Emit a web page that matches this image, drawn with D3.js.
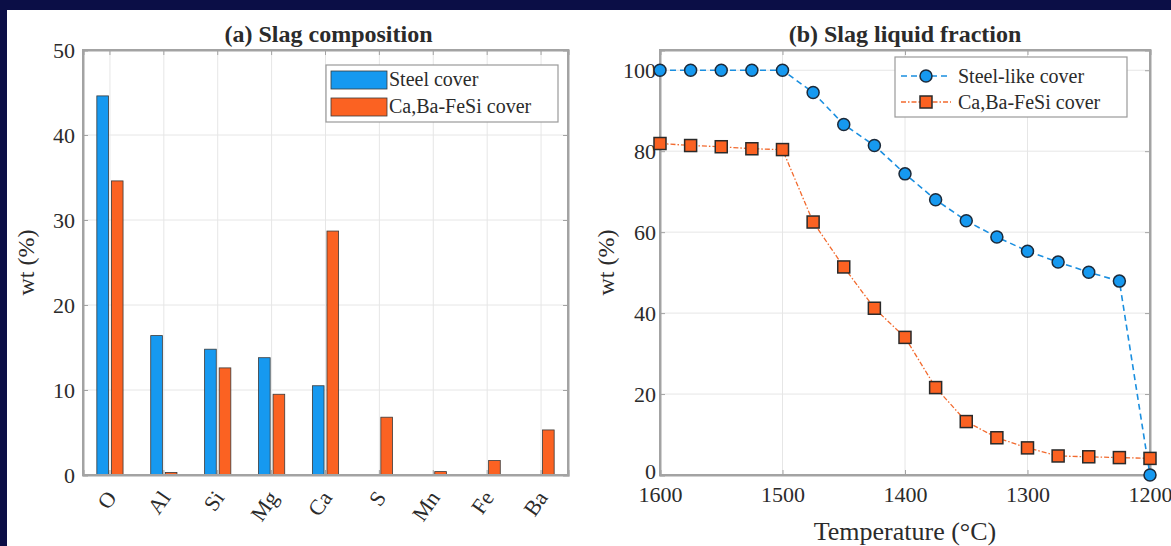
<!DOCTYPE html>
<html>
<head>
<meta charset="utf-8">
<script src="https://cdn.jsdelivr.net/npm/d3@7"></script>
<style>
  body { margin: 0; background: #0b0e46; }
  svg { display: block; }
  text { font-family: "Liberation Serif", "Times New Roman", serif; fill: #2b2b2b; }
  .title { font-weight: bold; font-size: 24px; }
  .tick text { font-size: 22px; }
  .grid line { stroke: #e6e6e6; stroke-width: 1; }
</style>
</head>
<body>
<svg id="chart"></svg>
<script>
// panel (a) data
var elements = ["O", "Al", "Si", "Mg", "Ca", "S", "Mn", "Fe", "Ba"];
var steelCover = [44.6, 16.4, 14.8, 13.8, 10.5, 0, 0, 0, 0];
var febaCover = [34.6, 0.3, 12.6, 9.5, 28.7, 6.8, 0.4, 1.7, 5.3];
var seriesNamesA = ["Steel cover", "Ca,Ba-FeSi cover"];

// panel (b) data
var temps = [1600, 1575, 1550, 1525, 1500, 1475, 1450, 1425, 1400, 1375, 1350, 1325, 1300, 1275, 1250, 1225, 1200];
var steelLike = [100, 100, 100, 100, 100, 94.5, 86.6, 81.4, 74.4, 68.0, 62.8, 58.8, 55.3, 52.6, 50.1, 47.9, 0];
var febaLiquid = [81.9, 81.4, 81.1, 80.6, 80.4, 62.5, 51.4, 41.2, 34.0, 21.6, 13.2, 9.2, 6.7, 4.7, 4.5, 4.3, 4.1];
var seriesNamesB = ["Steel-like cover", "Ca,Ba-FeSi cover"];

var blue = "#1699f0", orange = "#fb6222";
var axisCol = "#a3a3a3";

var svg = d3.select("#chart").attr("width", 1171).attr("height", 546);

// white sheet over the navy frame
svg.append("rect").attr("x", 7).attr("y", 10).attr("width", 1164).attr("height", 536).attr("fill", "#fff");

function frame(g, x0, x1, y0, y1) {
  g.append("rect").attr("x", x0).attr("y", y0).attr("width", x1 - x0).attr("height", y1 - y0)
    .attr("fill", "none").attr("stroke", axisCol).attr("stroke-width", 2);
}

// ---------- panel (a) ----------
var a = { l: 83, r: 568, t: 50, b: 475 };
var gA = svg.append("g");

var xA = d3.scaleBand().domain(elements).range([a.l, a.r]).paddingInner(0).paddingOuter(0);
var yA = d3.scaleLinear().domain([0, 50]).range([a.b, a.t]);
var xSub = d3.scaleBand().domain([0, 1]).range([0, xA.bandwidth()]).paddingInner(0.2).paddingOuter(0.95);

// grid
gA.append("g").attr("class", "grid")
  .selectAll("line.v").data(elements).enter().append("line")
  .attr("x1", function (d) { return xA(d) + xA.bandwidth() / 2; })
  .attr("x2", function (d) { return xA(d) + xA.bandwidth() / 2; })
  .attr("y1", a.t).attr("y2", a.b);
gA.append("g").attr("class", "grid")
  .selectAll("line.h").data(yA.ticks(5)).enter().append("line")
  .attr("x1", a.l).attr("x2", a.r)
  .attr("y1", function (d) { return yA(d); }).attr("y2", function (d) { return yA(d); });

// bars
[steelCover, febaCover].forEach(function (vals, si) {
  gA.append("g").selectAll("rect").data(elements).enter().append("rect")
    .attr("x", function (d) { return xA(d) + xSub(si); })
    .attr("width", xSub.bandwidth())
    .attr("y", function (d, i) { return yA(vals[i]); })
    .attr("height", function (d, i) { return yA(0) - yA(vals[i]); })
    .attr("fill", si === 0 ? blue : orange)
    .attr("stroke", "#3a3a3a").attr("stroke-width", 0.8)
    .style("display", function (d, i) { return vals[i] > 0 ? null : "none"; });
});

// axes
gA.append("g").attr("transform", "translate(" + a.l + ",0)")
  .call(d3.axisLeft(yA).ticks(5).tickSize(-5).tickPadding(8));
var axBA = gA.append("g").attr("transform", "translate(0," + a.b + ")")
  .call(d3.axisBottom(xA).tickSize(-5).tickPadding(8));
gA.append("g").attr("transform", "translate(" + a.r + ",0)")
  .call(d3.axisRight(yA).ticks(5).tickSize(-5).tickFormat(""));
gA.append("g").attr("transform", "translate(0," + a.t + ")")
  .call(d3.axisTop(xA).tickSize(-5).tickFormat(""));
axBA.selectAll(".tick text")
  .attr("transform", "translate(-4,12) rotate(-55)")
  .attr("dy", "0.35em").attr("dx", "-0.1em")
  .style("text-anchor", "end");
frame(gA, a.l, a.r, a.t, a.b);

gA.append("text").attr("class", "title").attr("x", (a.l + a.r) / 2 + 3).attr("y", 42)
  .attr("text-anchor", "middle").text("(a) Slag composition");
gA.append("text").attr("transform", "translate(34," + (a.t + a.b) / 2 + ") rotate(-90)")
  .attr("text-anchor", "middle").style("font-size", "24px").text("wt (%)");

// legend (a)
var legA = gA.append("g").attr("transform", "translate(326,65)");
legA.append("rect").attr("width", 232).attr("height", 57).attr("fill", "#fff")
  .attr("stroke", "#9a9a9a").attr("stroke-width", 1.2);
seriesNamesA.forEach(function (n, i) {
  legA.append("rect").attr("x", 5).attr("y", 6 + i * 27).attr("width", 56).attr("height", 18)
    .attr("fill", i === 0 ? blue : orange).attr("stroke", "#3a3a3a").attr("stroke-width", 0.8);
  legA.append("text").attr("x", 63).attr("y", 21 + i * 27).style("font-size", "20px").text(n);
});

// ---------- panel (b) ----------
var b = { l: 660, r: 1150, t: 50, b: 475 };
var gB = svg.append("g");
var xB = d3.scaleLinear().domain([1600, 1200]).range([b.l, b.r]);
var yB = d3.scaleLinear().domain([0, 105]).range([b.b, b.t]);
var yTicksB = [0, 20, 40, 60, 80, 100];
var xTicksB = [1600, 1500, 1400, 1300, 1200];

gB.append("g").attr("class", "grid")
  .selectAll("line").data(xTicksB).enter().append("line")
  .attr("x1", function (d) { return xB(d); }).attr("x2", function (d) { return xB(d); })
  .attr("y1", b.t).attr("y2", b.b);
gB.append("g").attr("class", "grid")
  .selectAll("line").data(yTicksB).enter().append("line")
  .attr("x1", b.l).attr("x2", b.r)
  .attr("y1", function (d) { return yB(d); }).attr("y2", function (d) { return yB(d); });

var axLB = gB.append("g").attr("transform", "translate(" + b.l + ",0)")
  .call(d3.axisLeft(yB).tickValues(yTicksB).tickSize(-5).tickPadding(4));
axLB.selectAll(".tick text").filter(function (d) { return d === 0; }).attr("dy", "0.15em");
gB.append("g").attr("transform", "translate(0," + b.b + ")")
  .call(d3.axisBottom(xB).tickValues(xTicksB).tickFormat(d3.format("d")).tickSize(-5).tickPadding(11));
gB.append("g").attr("transform", "translate(" + b.r + ",0)")
  .call(d3.axisRight(yB).tickValues(yTicksB).tickSize(-5).tickFormat(""));
gB.append("g").attr("transform", "translate(0," + b.t + ")")
  .call(d3.axisTop(xB).tickValues(xTicksB).tickSize(-5).tickFormat(""));
frame(gB, b.l, b.r, b.t, b.b);

var lineB = function (vals) {
  return d3.line().x(function (d, i) { return xB(temps[i]); }).y(function (d) { return yB(d); })(vals);
};
gB.append("path").attr("d", lineB(steelLike)).attr("fill", "none")
  .attr("stroke", "#1a8fe0").attr("stroke-width", 1.6).attr("stroke-dasharray", "6,4");
gB.append("path").attr("d", lineB(febaLiquid)).attr("fill", "none")
  .attr("stroke", "#f26a2e").attr("stroke-width", 1.3).attr("stroke-dasharray", "5,2,1.5,2");

gB.append("g").selectAll("rect").data(febaLiquid).enter().append("rect")
  .attr("x", function (d, i) { return xB(temps[i]) - 6; })
  .attr("y", function (d) { return yB(d) - 6; })
  .attr("width", 12).attr("height", 12)
  .attr("fill", orange).attr("stroke", "#2a2a2a").attr("stroke-width", 1.5);
gB.append("g").selectAll("circle").data(steelLike).enter().append("circle")
  .attr("cx", function (d, i) { return xB(temps[i]); })
  .attr("cy", function (d) { return yB(d); })
  .attr("r", 6)
  .attr("fill", blue).attr("stroke", "#1c2a3a").attr("stroke-width", 1.5);

gB.append("text").attr("class", "title").attr("x", (b.l + b.r) / 2).attr("y", 42)
  .attr("text-anchor", "middle").text("(b) Slag liquid fraction");
gB.append("text").attr("transform", "translate(614," + (b.t + b.b) / 2 + ") rotate(-90)")
  .attr("text-anchor", "middle").style("font-size", "24px").text("wt (%)");
gB.append("text").attr("x", (b.l + b.r) / 2).attr("y", 540)
  .attr("text-anchor", "middle").style("font-size", "26px").text("Temperature (°C)");

// legend (b)
var legB = gB.append("g").attr("transform", "translate(895,57)");
legB.append("rect").attr("width", 232).attr("height", 60).attr("fill", "#fff")
  .attr("stroke", "#9a9a9a").attr("stroke-width", 1.2);
seriesNamesB.forEach(function (n, i) {
  var yy = 19 + i * 26;
  legB.append("line").attr("x1", 6).attr("x2", 56).attr("y1", yy).attr("y2", yy)
    .attr("stroke", i === 0 ? "#1a8fe0" : "#f26a2e")
    .attr("stroke-width", i === 0 ? 1.6 : 1.3)
    .attr("stroke-dasharray", i === 0 ? "6,4" : "5,2,1.5,2");
  if (i === 0) {
    legB.append("circle").attr("cx", 31).attr("cy", yy).attr("r", 6)
      .attr("fill", blue).attr("stroke", "#1c2a3a").attr("stroke-width", 1.5);
  } else {
    legB.append("rect").attr("x", 25).attr("y", yy - 6).attr("width", 12).attr("height", 12)
      .attr("fill", orange).attr("stroke", "#2a2a2a").attr("stroke-width", 1.5);
  }
  legB.append("text").attr("x", 63).attr("y", yy + 7).style("font-size", "20px").text(n);
});

// axis styling
svg.selectAll(".domain").attr("stroke", axisCol).attr("stroke-width", 2);
svg.selectAll(".tick line").attr("stroke", axisCol);
svg.selectAll(".tick text").attr("fill", "#2b2b2b");
</script>
</body>
</html>
